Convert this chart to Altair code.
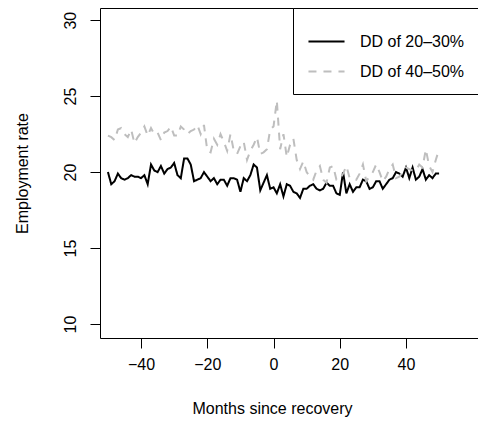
import altair as alt
import pandas as pd

months = list(range(-50, 51))
dd20 = [20.0,19.2,19.4,19.9,19.6,19.5,19.6,19.8,19.7,19.7,
        19.6,19.8,19.2,20.5,20.1,20.0,20.4,19.9,20.2,20.3,
        20.6,19.8,19.6,20.9,20.9,20.5,19.4,19.5,19.6,20.0,
        19.7,19.4,19.6,19.2,19.5,19.5,19.1,19.6,19.6,19.5,
        18.7,19.6,19.4,19.8,20.5,20.3,18.8,19.3,19.8,18.9,
        19.0,18.6,19.2,18.4,19.2,19.1,18.7,18.6,18.3,18.9,
        18.9,19.1,19.2,18.9,18.8,18.9,19.3,19.1,19.1,18.6,
        18.5,20.0,18.6,19.2,18.7,19.0,19.0,19.5,19.4,18.9,
        19.0,19.4,19.4,18.9,19.2,19.5,19.6,20.0,19.9,19.7,
        20.3,19.6,20.3,19.5,19.7,20.2,19.5,19.8,19.6,19.9,
        19.9]
dd40 = [22.4,22.3,22.1,22.8,22.9,22.5,22.3,22.8,21.9,22.3,
        22.6,23.0,22.4,22.9,22.5,22.6,22.1,22.6,22.7,23.0,
        22.4,22.4,23.0,22.8,22.5,22.7,22.8,23.1,22.5,23.1,
        21.4,21.3,22.2,21.8,22.5,22.0,21.4,22.5,21.4,21.2,
        21.7,22.0,20.8,21.4,21.8,22.3,21.2,21.3,21.5,22.8,
        23.0,24.7,21.5,22.5,21.0,21.8,22.2,20.8,20.2,20.7,
        20.0,19.7,19.5,20.1,20.4,19.5,19.3,20.3,20.4,19.5,
        19.5,19.9,20.4,19.6,19.5,19.5,19.9,20.5,19.4,19.7,
        20.0,20.5,20.0,19.4,19.7,20.2,20.5,19.6,19.7,20.0,
        20.3,20.2,20.1,20.1,20.5,20.3,21.5,20.4,20.0,20.8,
        21.5]
series = ["DD of 20\u201330%", "DD of 40\u201350%"]

df = pd.concat([
    pd.DataFrame({"m": months, "v": dd20, "s": series[0]}),
    pd.DataFrame({"m": months, "v": dd40, "s": series[1]}),
])

F = "Liberation Sans"
xs = alt.Scale(domain=[-52.4, 61.75], nice=False, zero=False)
ys = alt.Scale(domain=[9.08, 30.8], nice=False, zero=False)

lines = alt.Chart(df).mark_line(strokeWidth=2).encode(
    x=alt.X("m:Q", scale=xs,
            axis=alt.Axis(values=[-40, -20, 0, 20, 40], title="Months since recovery",
                          titleX=172, titleAnchor="middle",
                          grid=False, domain=True, domainColor="black", tickColor="black", tickSize=10,
                          labelPadding=8, labelFontSize=16, labelFont=F, labelColor="black",
                          titleFont=F, titleFontSize=16, titleFontWeight="normal",
                          titleColor="black", titlePadding=28,
                          labelExpr="replace(datum.label, '-', '\u2212')")),
    y=alt.Y("v:Q", scale=ys,
            axis=alt.Axis(values=[10, 15, 20, 25, 30], title="Employment rate",
                          grid=False, domain=True, domainColor="black", tickColor="black", tickSize=10,
                          labelAngle=-90, labelAlign="center", labelBaseline="bottom",
                          labelPadding=12, labelFontSize=16, labelFont=F, labelColor="black",
                          titleFont=F, titleFontSize=16, titleFontWeight="normal",
                          titleColor="black", titlePadding=32)),
    color=alt.Color("s:N", scale=alt.Scale(domain=series, range=["black", "#bebebe"]),
                    legend=alt.Legend(title=None, orient="none", legendX=193, legendY=0,
                                      fillColor="white", strokeColor="black",
                                      padding=14, symbolType="stroke", symbolSize=1300,
                                      symbolStrokeWidth=2, labelFontSize=16, labelFont=F,
                                      labelColor="black", rowPadding=2, labelOffset=14,
                                      labelLimit=300)),
    strokeDash=alt.StrokeDash("s:N", scale=alt.Scale(domain=series, range=[[1, 0], [8, 7]]),
                              legend=None),
)

top = alt.Chart(df).mark_line(opacity=0).encode(
    x=alt.X("m:Q", scale=xs, axis=alt.Axis(orient="top", labels=False, ticks=False,
                                           domain=True, domainColor="black", grid=False, title=None)),
    y=alt.Y("v:Q", scale=ys),
)

chart = alt.layer(lines, top).resolve_axis(x="independent").properties(
    width=378, height=330, padding={"left": 92, "top": 0, "right": 0, "bottom": 84},
    autosize="none").configure_view(stroke=None)

chart.save("out.html", embed_options={"renderer": "svg", "actions": False})
